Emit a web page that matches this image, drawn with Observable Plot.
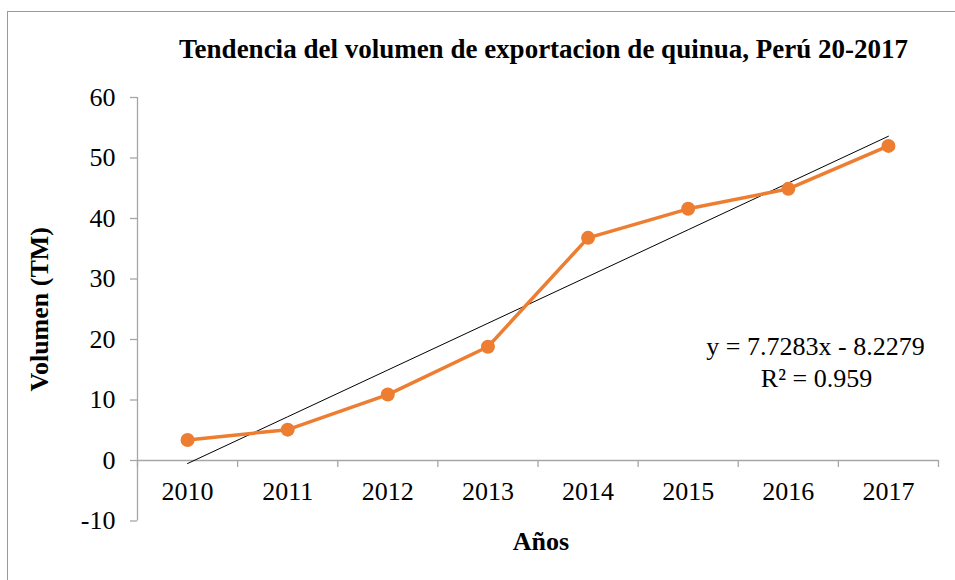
<!DOCTYPE html>
<html>
<head>
<meta charset="utf-8">
<script src="https://cdn.jsdelivr.net/npm/d3@7"></script>
<script src="https://cdn.jsdelivr.net/npm/@observablehq/plot@0.6"></script>
<style>
  html, body { margin: 0; padding: 0; background: #fff; }
  #wrap { position: relative; width: 955px; height: 580px; overflow: hidden; }
  #frame { position: absolute; left: 7px; top: 11px; width: 1200px; height: 800px;
           border-left: 1.5px solid #9a9a9a; border-top: 1.5px solid #9a9a9a; }
  #chart { position: absolute; left: 0; top: 0; }
  #chart svg, #chart svg text { font-family: "Liberation Serif", "Times New Roman", serif !important; }
</style>
</head>
<body>
<div id="wrap"><div id="frame"></div><div id="chart"></div></div>
<script>
// ---- data ----
const years = [2010, 2011, 2012, 2013, 2014, 2015, 2016, 2017];
const volumen = [3.4, 5.1, 10.9, 18.8, 36.8, 41.6, 44.9, 52.0];
const yTicks = [-10, 0, 10, 20, 30, 40, 50, 60];
const trendSlope = 7.7283;
const trendIntercept = -8.2279;
const title = "Tendencia del volumen de exportacion de quinua, Perú 20-2017";
const yLabel = "Volumen (TM)";
const xLabel = "Años";
const eqLine1 = "y = 7.7283x - 8.2279";
const eqLine2 = "R² = 0.959";

// ---- derived tables ----
const data = years.map((y, i) => ({year: y, v: volumen[i]}));
const trend = years.map((y, i) => ({year: y, v: trendSlope * (i + 1) + trendIntercept}));
const bounds = [years[0] - 0.5, ...years.map(y => y + 0.5)];

const W = 955, H = 580, mT = 97, mB = 59.5, mL = 137, mR = 17;
const orange = "#ED7D31", axisGray = "#a6a6a6";
const FONT = "Liberation Serif";
const yTickUnits = 7 * (yTicks[yTicks.length - 1] - yTicks[0]) / (H - mT - mB);
const xTickUnits = 7 * (bounds[bounds.length - 1] - bounds[0]) / (W - mL - mR);
const txt = {fill: "black", fontFamily: FONT, fontSize: 26, lineAnchor: "middle"};

const plot = Plot.plot({
  width: W, height: H,
  marginTop: mT, marginBottom: mB, marginLeft: mL, marginRight: mR,
  style: {fontFamily: FONT, fontSize: "26px", color: "black", background: "transparent", overflow: "visible"},
  x: {domain: [bounds[0], bounds[bounds.length - 1]], axis: null},
  y: {domain: [yTicks[0], yTicks[yTicks.length - 1]], axis: null},
  marks: [
    // y axis line and outward ticks
    Plot.ruleX([bounds[0]], {y1: yTicks[0], y2: yTicks[yTicks.length - 1], stroke: axisGray, strokeWidth: 1.3}),
    Plot.ruleY(yTicks, {y: d => d, x1: bounds[0] - xTickUnits, x2: bounds[0], stroke: axisGray, strokeWidth: 1.3}),
    // x axis at y=0 with downward ticks at category boundaries
    Plot.ruleY([0], {x1: bounds[0], x2: bounds[bounds.length - 1], stroke: axisGray, strokeWidth: 1.3}),
    Plot.ruleX(bounds, {x: d => d, y1: 0, y2: -yTickUnits, stroke: axisGray, strokeWidth: 1.3}),
    // trend line
    Plot.line(trend, {x: "year", y: "v", stroke: "black", strokeWidth: 1}),
    // series
    Plot.line(data, {x: "year", y: "v", stroke: orange, strokeWidth: 3.5}),
    Plot.dot(data, {x: "year", y: "v", r: 7, fill: orange, stroke: "none"}),
    // x tick labels
    Plot.text(years, {...txt, x: d => d, y: 0, text: d => String(d), textAnchor: "middle", dy: 31}),
    // y tick labels
    Plot.text(yTicks, {...txt, y: d => d, frameAnchor: "left", text: d => String(d), textAnchor: "end", dx: -22}),
    // title
    Plot.text([title], {...txt, frameAnchor: "top", text: d => d, textAnchor: "middle", dx: 5.5, dy: -48.5, fontWeight: "bold", fontSize: 27}),
    // y label
    Plot.text([yLabel], {...txt, frameAnchor: "left", text: d => d, textAnchor: "middle", rotate: -90, dx: -98, dy: 0, fontWeight: "bold"}),
    // x label
    Plot.text([xLabel], {...txt, frameAnchor: "bottom", text: d => d, textAnchor: "middle", dx: 3, dy: 20.5, fontWeight: "bold"}),
    // trendline equation
    Plot.text([eqLine1], {...txt, frameAnchor: "top-left", text: d => d, textAnchor: "middle", dx: 815 - mL, dy: 346 - mT}),
    Plot.text([eqLine2], {...txt, frameAnchor: "top-left", text: d => d, textAnchor: "middle", dx: 816 - mL, dy: 378 - mT})
  ]
});
document.getElementById("chart").appendChild(plot);
</script>
</body>
</html>
